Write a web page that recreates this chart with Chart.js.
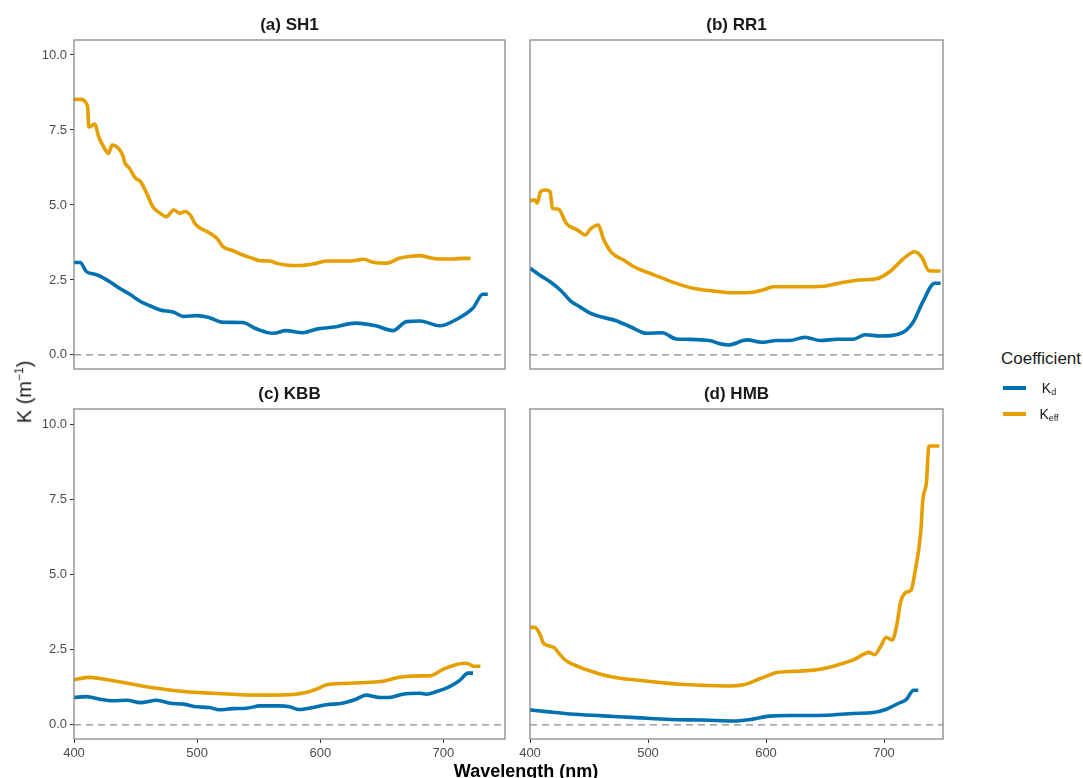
<!DOCTYPE html>
<html>
<head>
<meta charset="utf-8">
<title>K coefficients</title>
<script src="https://cdn.jsdelivr.net/npm/chart.js@4.4.1/dist/chart.umd.min.js"></script>
<style>
    body { margin: 0; background: #fff; font-family: "Liberation Sans", Arial, sans-serif; }
    #wrap { position: relative; width: 1083px; height: 778px; overflow: hidden; }
    canvas { position: absolute; }
    .txt { position: absolute; white-space: nowrap; transform: translate(-50%, -50%); color: #1a1a1a; }
    .strip { font-size: 17px; font-weight: bold; }
    .ytitle { font-size: 20px; transform: translate(-50%, -50%) rotate(-90deg); }
    .xtitle { font-size: 18px; font-weight: bold; color: #000; }
    .legtitle { position: absolute; font-size: 17px; color: #1a1a1a; transform: translateY(-50%); }
    .key { position: absolute; width: 23px; height: 4px; }
    .leglab { font-size: 14px; }
    .leglab sub { font-size: 9px; vertical-align: -2px; }
    sup { font-size: 12px; }
</style>
</head>
<body>
<div id="wrap"></div>
<script>
// panel strip titles and shared axis ticks
var titles = ['(a) SH1', '(b) RR1', '(c) KBB', '(d) HMB'];
var xTicks = [400, 500, 600, 700];
var yTicks = [0, 2.5, 5, 7.5, 10];
var seriesNames = ['Kd', 'Keff'];

// dashed reference line at K = 0
var zeroX = [400, 750];
var zeroY = [0, 0];

// (a) SH1
var sh1KeffX = [400, 405, 411, 412, 417, 420, 424, 428, 431, 436, 440, 441, 445, 450, 454, 459, 464, 470, 475, 481, 486, 490, 495, 498, 502, 509, 516, 521, 529, 537, 545, 551, 559, 564, 572, 583, 594, 605, 616, 627, 635, 643, 654, 664, 672, 681, 689, 697, 708, 716, 722];
var sh1Keff = [8.52, 8.52, 8.3, 7.6, 7.7, 7.28, 6.94, 6.72, 7.0, 6.89, 6.61, 6.44, 6.22, 5.89, 5.78, 5.39, 4.94, 4.72, 4.61, 4.83, 4.72, 4.78, 4.63, 4.39, 4.24, 4.09, 3.89, 3.61, 3.48, 3.33, 3.22, 3.14, 3.13, 3.06, 3.0, 2.98, 3.03, 3.13, 3.13, 3.14, 3.19, 3.09, 3.06, 3.22, 3.28, 3.31, 3.24, 3.2, 3.2, 3.22, 3.22];
var sh1KdX = [400, 405, 410, 416, 421, 429, 437, 445, 454, 462, 470, 481, 489, 500, 510, 521, 537, 548, 562, 572, 586, 597, 610, 629, 645, 659, 670, 681, 697, 710, 724, 732, 736];
var sh1Kd = [3.08, 3.08, 2.78, 2.7, 2.63, 2.44, 2.22, 2.03, 1.78, 1.63, 1.5, 1.42, 1.28, 1.31, 1.24, 1.09, 1.08, 0.87, 0.72, 0.81, 0.74, 0.86, 0.92, 1.06, 0.97, 0.81, 1.11, 1.13, 0.97, 1.17, 1.56, 2.02, 2.02];

// (b) RR1
var rr1KeffX = [400, 404, 406, 409, 413, 417, 419, 424, 431, 440, 447, 451, 458, 462, 469, 479, 488, 505, 522, 538, 555, 572, 589, 598, 606, 626, 649, 663, 680, 694, 705, 716, 726, 732, 738, 742, 748];
var rr1Keff = [5.13, 5.17, 5.06, 5.44, 5.5, 5.44, 4.89, 4.86, 4.37, 4.17, 4.0, 4.19, 4.33, 3.89, 3.42, 3.17, 2.94, 2.67, 2.41, 2.22, 2.13, 2.07, 2.09, 2.17, 2.27, 2.27, 2.29, 2.4, 2.5, 2.54, 2.78, 3.19, 3.44, 3.26, 2.81, 2.8, 2.8];
var rr1KdX = [400, 409, 417, 425, 435, 442, 451, 459, 473, 485, 499, 512, 524, 533, 553, 561, 568, 584, 596, 609, 620, 633, 646, 660, 674, 684, 697, 712, 719, 725, 733, 743, 748];
var rr1Kd = [2.89, 2.64, 2.44, 2.19, 1.78, 1.61, 1.39, 1.28, 1.14, 0.94, 0.72, 0.74, 0.53, 0.52, 0.47, 0.37, 0.33, 0.5, 0.42, 0.48, 0.48, 0.59, 0.48, 0.52, 0.52, 0.67, 0.63, 0.69, 0.83, 1.11, 1.78, 2.39, 2.39];

// (c) KBB
var kbbKeffX = [400, 413, 421, 437, 454, 472, 491, 513, 535, 556, 578, 589, 597, 605, 621, 637, 651, 664, 681, 689, 700, 710, 717, 721, 724, 730];
var kbbKeff = [1.5, 1.58, 1.54, 1.43, 1.3, 1.19, 1.1, 1.05, 1.0, 0.99, 1.01, 1.08, 1.19, 1.33, 1.38, 1.41, 1.45, 1.58, 1.63, 1.63, 1.85, 2.0, 2.05, 2.02, 1.95, 1.95];
var kbbKdX = [400, 410, 421, 432, 443, 454, 467, 478, 489, 500, 510, 518, 529, 540, 551, 567, 575, 583, 594, 605, 618, 629, 637, 648, 656, 667, 681, 686, 694, 705, 713, 720, 724];
var kbbKd = [0.91, 0.94, 0.85, 0.8, 0.82, 0.74, 0.82, 0.72, 0.69, 0.6, 0.58, 0.5, 0.54, 0.55, 0.63, 0.63, 0.6, 0.51, 0.58, 0.67, 0.72, 0.85, 0.99, 0.91, 0.91, 1.02, 1.05, 1.02, 1.1, 1.27, 1.47, 1.72, 1.72];

// (d) HMB
var hmbKeffX = [400, 404, 409, 411, 416, 421, 425, 430, 437, 448, 462, 476, 490, 510, 527, 550, 570, 581, 592, 601, 609, 626, 640, 651, 663, 674, 683, 687, 692, 697, 702, 707, 711, 714, 719, 723, 726, 731, 733, 736, 738, 747];
var hmbKeff = [3.24, 3.24, 2.96, 2.74, 2.63, 2.55, 2.35, 2.15, 2.0, 1.83, 1.66, 1.55, 1.49, 1.41, 1.35, 1.31, 1.29, 1.33, 1.49, 1.63, 1.74, 1.78, 1.82, 1.89, 2.02, 2.16, 2.35, 2.41, 2.33, 2.6, 2.91, 2.82, 3.35, 4.07, 4.41, 4.48, 5.02, 6.35, 7.51, 8.07, 9.27, 9.27];
var hmbKdX = [400, 414, 434, 462, 490, 519, 547, 575, 589, 603, 623, 651, 674, 691, 702, 712, 719, 725, 729];
var hmbKd = [0.5, 0.44, 0.36, 0.3, 0.24, 0.18, 0.16, 0.13, 0.19, 0.29, 0.31, 0.32, 0.38, 0.41, 0.52, 0.71, 0.85, 1.15, 1.15];

var KD_COLOR = '#0072B2';
var KEFF_COLOR = '#E69F00';
var FONT = '"Liberation Sans", Arial, sans-serif';

Chart.defaults.font.family = FONT;

var wrap = document.getElementById('wrap');

// panel rectangles are [left, top, right, bottom] in page pixels
var panels = [
    { title: titles[0], rect: [74, 40, 505, 369], left: true, bottom: false, kdX: sh1KdX, kd: sh1Kd, keffX: sh1KeffX, keff: sh1Keff },
    { title: titles[1], rect: [530, 40, 943, 369], left: false, bottom: false, kdX: rr1KdX, kd: rr1Kd, keffX: rr1KeffX, keff: rr1Keff },
    { title: titles[2], rect: [74, 409, 505, 739], left: true, bottom: true, kdX: kbbKdX, kd: kbbKd, keffX: kbbKeffX, keff: kbbKeff },
    { title: titles[3], rect: [530, 409, 943, 739], left: false, bottom: true, kdX: hmbKdX, kd: hmbKd, keffX: hmbKeffX, keff: hmbKeff }
];

function points(xs, ys) {
    return xs.map(function(x, i) { return { x: x, y: ys[i] }; });
}

function addText(html, cls, x, y) {
    var d = document.createElement('div');
    d.className = cls;
    d.innerHTML = html;
    d.style.left = x + 'px';
    d.style.top = y + 'px';
    wrap.appendChild(d);
    return d;
}

// grey frame round each panel
var frame = {
    id: 'frame',
    afterDatasetsDraw: function(chart) {
        var a = chart.chartArea, c = chart.ctx;
        c.save();
        c.strokeStyle = '#7f7f7f';
        c.lineWidth = 1.2;
        c.strokeRect(a.left, a.top, a.right - a.left, a.bottom - a.top);
        c.restore();
    }
};

function lineSet(label, pts, color) {
    return {
        label: label,
        data: pts,
        borderColor: color,
        borderWidth: 3.6,
        pointRadius: 0,
        cubicInterpolationMode: 'monotone',
        borderJoinStyle: 'round',
        borderCapStyle: 'butt'
    };
}

function makePanel(p) {
    var pad = 18;
    var yw = p.left ? 40 : 0;
    var xh = p.bottom ? 26 : 0;
    var w = p.rect[2] - p.rect[0] + 2 * pad + yw;
    var h = p.rect[3] - p.rect[1] + 2 * pad + xh;

    var cv = document.createElement('canvas');
    cv.width = w;
    cv.height = h;
    cv.style.width = w + 'px';
    cv.style.height = h + 'px';
    cv.style.left = (p.rect[0] - pad - yw) + 'px';
    cv.style.top = (p.rect[1] - pad) + 'px';
    wrap.appendChild(cv);

    var tickGrid = { drawOnChartArea: false, drawTicks: true, tickLength: 4, color: '#333', lineWidth: 1 };

    new Chart(cv.getContext('2d'), {
        type: 'line',
        data: {
            datasets: [
                {
                    label: 'zero',
                    data: points(zeroX, zeroY),
                    borderColor: '#8a8a8a',
                    borderWidth: 1.4,
                    borderDash: [7, 5],
                    pointRadius: 0
                },
                lineSet(seriesNames[1], points(p.keffX, p.keff), KEFF_COLOR),
                lineSet(seriesNames[0], points(p.kdX, p.kd), KD_COLOR)
            ]
        },
        options: {
            responsive: false,
            animation: false,
            events: [],
            layout: { padding: pad },
            plugins: { legend: { display: false }, tooltip: { enabled: false } },
            scales: {
                x: {
                    type: 'linear',
                    min: 400,
                    max: 750,
                    display: p.bottom,
                    afterBuildTicks: function(s) { s.ticks = xTicks.map(function(v) { return { value: v }; }); },
                    afterFit: function(s) { s.height = xh; },
                    grid: tickGrid,
                    border: { display: false },
                    ticks: { color: '#4d4d4d', font: { size: 13 }, padding: 3, maxRotation: 0, autoSkip: false }
                },
                y: {
                    type: 'linear',
                    min: -0.47,
                    max: 10.5,
                    display: p.left,
                    afterBuildTicks: function(s) { s.ticks = yTicks.map(function(v) { return { value: v }; }); },
                    afterFit: function(s) { s.width = yw; },
                    grid: tickGrid,
                    border: { display: false },
                    ticks: {
                        color: '#4d4d4d',
                        font: { size: 13 },
                        padding: 3,
                        callback: function(v) { return Number(v).toFixed(1); }
                    }
                }
            }
        },
        plugins: [frame]
    });

    addText(p.title, 'txt strip', (p.rect[0] + p.rect[2]) / 2, p.rect[1] - 15);
}

panels.forEach(makePanel);

// axis titles
addText('K (m<sup>\u22121</sup>)', 'txt ytitle', 24, 392);
addText('Wavelength (nm)', 'txt xtitle', 526, 771);

// legend
var lt = document.createElement('div');
lt.className = 'legtitle';
lt.textContent = 'Coefficient';
lt.style.left = '1001px';
lt.style.top = '359px';
wrap.appendChild(lt);

[[KD_COLOR, 'K<sub>d</sub>', 388], [KEFF_COLOR, 'K<sub>eff</sub>', 414]].forEach(function(k) {
    var key = document.createElement('div');
    key.className = 'key';
    key.style.background = k[0];
    key.style.left = '1003px';
    key.style.top = (k[2] - 2) + 'px';
    wrap.appendChild(key);
    addText(k[1], 'txt leglab', 1049, k[2]);
});
</script>
</body>
</html>
